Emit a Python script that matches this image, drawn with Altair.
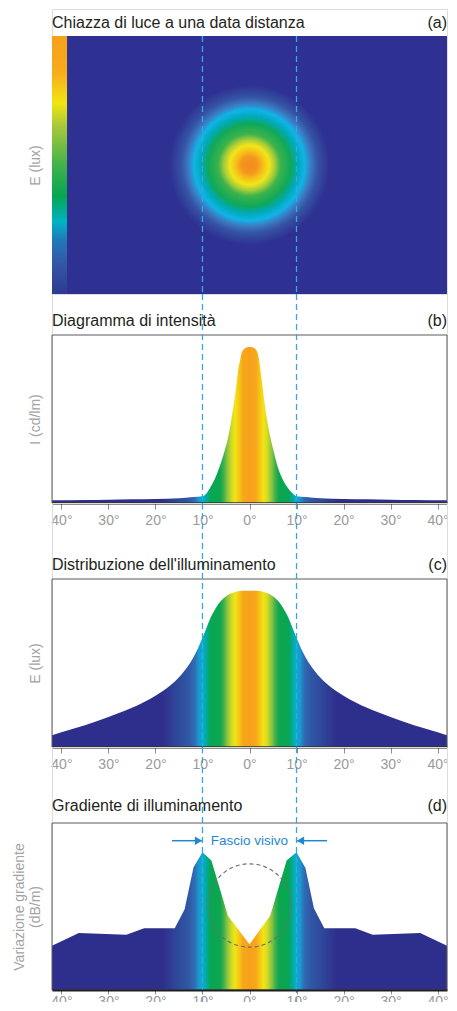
import altair as alt
import pandas as pd

# ---------------- data ----------------
x_ticks = [-40, -30, -20, -10, 0, 10, 20, 30, 40]
x_tick_labels = ["40°", "30°", "20°", "10°", "0°", "10°", "20°", "30°", "40°"]
beam_edges = [-10, 10]

panel_titles = ["Chiazza di luce a una data distanza", "Diagramma di intensità",
                "Distribuzione dell'illuminamento", "Gradiente di illuminamento"]
panel_tags = ["(a)", "(b)", "(c)", "(d)"]
y_titles = [["E (lux)"], ["I (cd/lm)"], ["E (lux)"], ["Variazione gradiente", "(dB/m)"]]

# (a) light spot extent (degrees) and colour bar
spot_x = [-42, 42]
spot_y = [-27.4, 27.4]
colorbar_x = [-42, -38.8]

# (b) intensity diagram
b_angle = [-42, -35, -30, -25, -20, -15, -12, -10, -9, -8.2, -7.2, -6.6, -5.5, -4.5, -3.9, -3.3,
           -2.8, -2.4, -2.0, -1.7, -1.0, -0.3, 0.3, 1.0, 1.7, 2.0, 2.3, 2.7, 3.2, 3.7, 4.4, 5.2,
           6.2, 7.0, 7.9, 9.0, 10, 12, 15, 20, 25, 30, 35, 42]
b_value = [1.6, 1.8, 2.0, 2.2, 2.4, 2.8, 3.5, 4.0, 6.3, 9.9, 15.5, 19.8, 29, 39.7, 49, 59.5,
           70, 79.4, 85, 89.3, 92, 92.9, 92.9, 92.3, 89.5, 86, 79.5, 71, 59.5, 50, 39.7, 30,
           19.8, 14.5, 9.9, 6.2, 4.0, 3.5, 2.8, 2.4, 2.2, 2.0, 1.8, 1.6]

# (c) illuminance distribution
c_angle = [-42, -40, -35, -30, -25, -20, -17, -15, -13, -12, -11, -10, -9, -8, -7, -6, -5, -4,
           -3, -2, -1, 0, 1, 2, 3, 4, 5, 6, 7, 8, 9, 10, 11, 12, 13, 15, 17, 20, 25, 30, 35, 40, 42]
c_value = [7.0, 8.8, 13, 17.8, 23.3, 30.5, 36.3, 41.5, 48.5, 53, 58.5, 65, 72, 78.5, 83.5, 87.2,
           89.7, 91.3, 92.3, 92.8, 93, 93, 93, 92.8, 92.3, 91.3, 89.7, 87.2, 83.5, 78.5, 72, 65,
           58.5, 53, 48.5, 41.5, 36.3, 30.5, 23.3, 17.8, 13, 8.8, 7.0]

# (d) illuminance gradient
d_angle = [-42, -36.3, -26.2, -22.4, -15.9, -13.8, -11.9, -10, -8.1, -4.6, 0, 4.4, 7.9, 10,
           11.9, 13.7, 15.9, 22.5, 26.2, 36.3, 42]
d_value = [26.5, 34.2, 33.1, 37, 37, 48.4, 73.5, 82.5, 77.5, 44.5, 27.4, 44.5, 77.5, 82.5,
           73, 49, 37, 37, 33.1, 34.2, 26.5]
circle_angle = [0]
circle_value = [50.6]
arrow_from = [-16.5, 16.5]
arrow_to = [-10, 10]
arrow_level = [89.4, 89.4]
beam_label = ["Fascio visivo"]

# colour ramp versus |angle| (degrees) used by (b), (c), (d)
ramp_angle = [0, 1.3, 2.2, 3.0, 3.7, 4.7, 5.5, 6.3, 8.3, 9.2, 9.9, 10.8, 11.6, 13.0, 16.0, 18.5, 42]
ramp_color = ["#f7a11b", "#f7a61b", "#f5c616", "#f2e412", "#d6dd24", "#8dc540", "#3eb04b",
              "#0ba64f", "#09a652", "#00aa9e", "#05b0cf", "#1b97cf", "#2f6db4", "#3058a4",
              "#2f4398", "#2e2f8c", "#2e2f8c"]
# colour ramp versus radius (degrees) of the light spot (a)
spot_radius = [0, 1.8, 3.0, 4.2, 5.4, 6.6, 8.8, 10.3, 11.8, 13.0, 14.5, 17.0, 42]
spot_color = ["#f48a20", "#f5961e", "#f6c219", "#f1e51a", "#a7cc3a", "#3db34a", "#10a85a",
              "#00aab8", "#12b3e6", "#3b7cc4", "#3553a4", "#2e3192", "#2e3192"]
# colour bar (fraction of height from bottom)
bar_pos = [0, 0.12, 0.21, 0.28, 0.38, 0.50, 0.65, 0.74, 0.86, 1.0]
bar_color = ["#2e3a90", "#3358a5", "#1f7ab9", "#00b3c4", "#05a651", "#43b14b", "#a6c83b",
             "#f1e611", "#f8ab1b", "#f6a01b"]

# ---------------- styling ----------------
FONT = "Liberation Sans"
W = 395
X_DOMAIN = [-42, 42]
DASH_BLUE = "#3ea4e0"
ANNOT_BLUE = "#1f88cf"
xs = alt.Scale(domain=X_DOMAIN, nice=False, zero=False)
span = X_DOMAIN[1] - X_DOMAIN[0]

# gradients built from the ramps
area_stops = []
for a, c in zip(reversed(ramp_angle), reversed(ramp_color)):
    area_stops.append(alt.GradientStop(color=c, offset=(X_DOMAIN[1] - a) / span))
for a, c in zip(ramp_angle[1:], ramp_color[1:]):
    area_stops.append(alt.GradientStop(color=c, offset=(X_DOMAIN[1] + a) / span))
area_grad = alt.LinearGradient(gradient="linear", stops=area_stops, x1=0, x2=1, y1=0, y2=0)

spot_grad = alt.RadialGradient(
    gradient="radial",
    stops=[alt.GradientStop(color=c, offset=r / X_DOMAIN[1]) for r, c in zip(spot_radius, spot_color)],
    x1=0.5, y1=0.5, r1=0, x2=0.5, y2=0.5, r2=0.5)
bar_grad = alt.LinearGradient(
    gradient="linear",
    stops=[alt.GradientStop(color=c, offset=p) for p, c in zip(bar_pos, bar_color)],
    x1=0, x2=0, y1=1, y2=0)

label_expr = " : ".join(f"datum.value == {v} ? '{t}'" for v, t in zip(x_ticks, x_tick_labels)) + " : ''"


def x_axis_for(tick_size=6, label_pad=4):
    return alt.Axis(values=x_ticks, labelExpr=label_expr, title=None, grid=False,
                    domainColor="#1e1e1e", domainWidth=2, tickColor="#8c8c8c",
                    tickSize=tick_size, tickWidth=1, labelColor="#9a9a9a", labelFont=FONT,
                    labelFontSize=14, labelPadding=label_pad, labelFlush=False, zindex=1)


def y_axis(title):
    return alt.Axis(title=title, labels=False, ticks=False, domain=False, grid=False,
                    titleColor="#a3a3a3", titleFont=FONT, titleFontSize=14,
                    titleFontWeight="normal", titlePadding=10, titleLineHeight=16)


def headings(i, ty):
    df = pd.DataFrame({"title": [panel_titles[i]], "tag": [panel_tags[i]]})
    base = alt.Chart(df)
    t1 = base.mark_text(align="left", baseline="alphabetic", font=FONT, fontSize=16,
                        color="#231f20").encode(x=alt.value(0), y=alt.value(ty), text="title:N")
    t2 = base.mark_text(align="right", baseline="alphabetic", font=FONT, fontSize=16,
                        color="#231f20").encode(x=alt.value(W), y=alt.value(ty), text="tag:N")
    return [t1, t2]


def beam_rules(y_top, y_bottom, xax):
    return alt.Chart(pd.DataFrame({"x": beam_edges})).mark_rule(
        color=DASH_BLUE, strokeDash=[6, 4], strokeWidth=1.3).encode(
        x=alt.X("x:Q", scale=xs, axis=xax), y=alt.value(y_top), y2=alt.value(y_bottom))


# ---------------- panel (a) ----------------
Ha, top_a = 285, 27
ya = alt.Scale(domain=spot_y, range=[Ha, top_a], nice=False, zero=False)
ya_axis = y_axis(y_titles[0])
spot_df = pd.DataFrame({"x0": [spot_x[0]], "x1": [spot_x[1]], "y0": [spot_y[0]], "y1": [spot_y[1]]})
bar_df = pd.DataFrame({"x0": [colorbar_x[0]], "x1": [colorbar_x[1]], "y0": [spot_y[0]], "y1": [spot_y[1]]})
heat = alt.Chart(spot_df).mark_rect(fill=spot_grad).encode(
    x=alt.X("x0:Q", scale=xs, axis=None), x2="x1",
    y=alt.Y("y0:Q", scale=ya, axis=ya_axis), y2="y1")
cbar = alt.Chart(bar_df).mark_rect(fill=bar_grad).encode(
    x=alt.X("x0:Q", scale=xs, axis=None), x2="x1",
    y=alt.Y("y0:Q", scale=ya, axis=ya_axis), y2="y1")
panel_a = alt.layer(heat, cbar, beam_rules(top_a, Ha, None), *headings(0, 18.5)).properties(
    width=W, height=Ha)


# ---------------- panels (b), (c), (d) ----------------
def curve_panel(i, angles, values, H, top, ty, interp, x_axis, extra_bottom=0, extras=()):
    ys = alt.Scale(domain=[0, 100], range=[H, top], nice=False, zero=False)
    yax = y_axis(y_titles[i])
    df = pd.DataFrame({"angle": angles, "value": values})
    area = alt.Chart(df).mark_area(fill=area_grad, interpolate=interp).encode(
        x=alt.X("angle:Q", scale=xs, axis=x_axis),
        y=alt.Y("value:Q", scale=ys, axis=yax))
    frame_df = pd.DataFrame({"x0": [X_DOMAIN[0]], "x1": [X_DOMAIN[1]], "y0": [0], "y1": [100]})
    frame = alt.Chart(frame_df).mark_rect(fillOpacity=0, stroke="#5a5a5a", strokeWidth=1).encode(
        x=alt.X("x0:Q", scale=xs, axis=x_axis), x2="x1",
        y=alt.Y("y0:Q", scale=ys, axis=yax), y2="y1")
    layers = [area, frame]
    layers += [mk(ys, yax, x_axis) for mk in extras]
    layers += [beam_rules(0, H + extra_bottom, x_axis)]
    layers += headings(i, ty)
    return alt.layer(*layers).properties(width=W, height=H)


def circle_layer(ys, yax, xax):
    df = pd.DataFrame({"angle": circle_angle, "value": circle_value})
    return alt.Chart(df).mark_point(shape="circle", size=6940, filled=False, color="#6f6f6f",
                                    strokeDash=[4, 3], strokeWidth=1.2, opacity=1).encode(
        x=alt.X("angle:Q", scale=xs, axis=xax), y=alt.Y("value:Q", scale=ys, axis=yax))


def arrow_layers(ys, yax, xax):
    df = pd.DataFrame({"a0": arrow_from, "a1": arrow_to, "v": arrow_level})
    return alt.Chart(df).mark_rule(color=ANNOT_BLUE, strokeWidth=1.5).encode(
        x=alt.X("a0:Q", scale=xs, axis=xax), x2="a1",
        y=alt.Y("v:Q", scale=ys, axis=yax))


def head_left(ys, yax, xax):
    df = pd.DataFrame({"a1": arrow_to[:1], "v": arrow_level[:1]})
    return alt.Chart(df).mark_point(shape="triangle-right", filled=True, size=70, opacity=1,
                                    color=ANNOT_BLUE, xOffset=-4).encode(
        x=alt.X("a1:Q", scale=xs, axis=xax), y=alt.Y("v:Q", scale=ys, axis=yax))


def head_right(ys, yax, xax):
    df = pd.DataFrame({"a1": arrow_to[1:], "v": arrow_level[1:]})
    return alt.Chart(df).mark_point(shape="triangle-left", filled=True, size=70, opacity=1,
                                    color=ANNOT_BLUE, xOffset=4).encode(
        x=alt.X("a1:Q", scale=xs, axis=xax), y=alt.Y("v:Q", scale=ys, axis=yax))


def beam_text(ys, yax, xax):
    df = pd.DataFrame({"angle": [0], "v": arrow_level[:1], "label": beam_label})
    return alt.Chart(df).mark_text(font=FONT, fontSize=13.5, color=ANNOT_BLUE, align="center",
                                   baseline="middle").encode(
        x=alt.X("angle:Q", scale=xs, axis=xax), y=alt.Y("v:Q", scale=ys, axis=yax),
        text="label:N")


panel_b = curve_panel(1, b_angle, b_value, 209, 41, 32, "monotone", x_axis_for())
panel_c = curve_panel(2, c_angle, c_value, 244, 76, 67, "monotone", x_axis_for())
panel_d = curve_panel(3, d_angle, d_value, 243, 76, 64, "linear", x_axis_for(4, 0),
                      extra_bottom=30,
                      extras=(arrow_layers, head_left, head_right, beam_text, circle_layer))

chart = alt.vconcat(panel_a, panel_b, panel_c, panel_d, spacing=0, bounds="flush").resolve_scale(
    x="independent", y="independent").properties(
    padding={"left": 3, "top": 0, "right": 0, "bottom": -20}).configure_view(
    strokeWidth=0).configure(background="white")

chart.save("out.html", embed_options={"renderer": "svg", "actions": False})
